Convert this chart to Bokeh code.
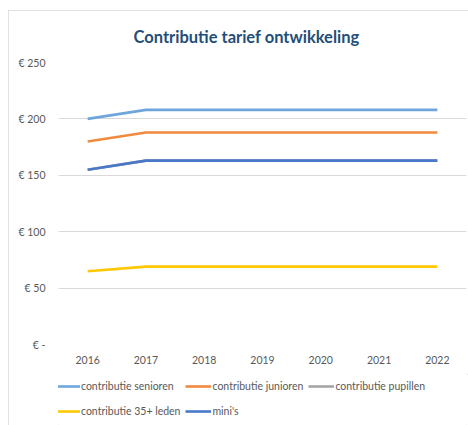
from bokeh.plotting import figure
from bokeh.layouts import column
from bokeh.models import Legend, LegendItem, FixedTicker, Range1d
from bokeh.embed import file_html
from bokeh.resources import INLINE

years = ["2016", "2017", "2018", "2019", "2020", "2021", "2022"]
senioren = [200, 208, 208, 208, 208, 208, 208]
junioren = [180, 188, 188, 188, 188, 188, 188]
pupillen = [155, 163, 163, 163, 163, 163, 163]
leden35 = [65, 69, 69, 69, 69, 69, 69]
minis = [155, 163, 163, 163, 163, 163, 163]

series_names = ["contributie senioren", "contributie junioren", "contributie pupillen",
                "contributie 35+ leden", "mini's"]
series_values = [senioren, junioren, pupillen, leden35, minis]
colors = ["#6EA6DC", "#F08A3E", "#A5A5A5", "#FFC800", "#4A78C8"]

y_ticks = [0, 50, 100, 150, 200, 250]
y_labels = {0: "€ -", 50: "€ 50", 100: "€ 100", 150: "€ 150", 200: "€ 200", 250: "€ 250"}

FONT = "Lato"
TXT = "#595959"

# main chart
p = figure(x_range=years, y_range=Range1d(0, 250), width=460, height=364,
           output_backend="svg", toolbar_location=None,
           min_border_left=50, min_border_right=2, min_border_top=52, min_border_bottom=30,
           title="Contributie tarief ontwikkeling")
p.outline_line_color = None
p.background_fill_color = "white"
p.border_fill_color = "white"

p.title.align = "left"
p.title.offset = 75
p.title.vertical_align = "middle"
p.title.text_font = FONT
p.title.text_font_size = "16.5px"
p.title.text_font_style = "bold"
p.title.text_color = "#1F4E79"
p.title.standoff = 30

for name, vals, c in zip(series_names, series_values, colors):
    p.line(years, vals, line_color=c, line_width=2.6)

p.xgrid.grid_line_color = None
p.ygrid.grid_line_color = "#d9d9d9"
p.ygrid.grid_line_width = 1
p.yaxis.ticker = FixedTicker(ticks=y_ticks)
p.yaxis.major_label_overrides = y_labels
for ax in (p.xaxis[0], p.yaxis[0]):
    ax.axis_line_color = None
    ax.major_tick_line_color = None
    ax.minor_tick_line_color = None
    ax.major_label_text_font = FONT
    ax.major_label_text_font_size = "10.5px"
    ax.major_label_text_color = TXT
p.yaxis.major_label_standoff = 7
p.xaxis.major_label_standoff = 5

# legend strip (series drawn far outside its visible range; only legend shows)
lg = figure(width=460, height=51, output_backend="svg", toolbar_location=None,
            min_border=0, x_range=years, y_range=Range1d(10000, 10001))
lg.outline_line_color = None
lg.border_fill_color = "white"
lg.background_fill_color = "white"
lg.axis.visible = False
lg.grid.visible = False
items = []
for name, vals, c in zip(series_names, series_values, colors):
    r = lg.line(years, vals, line_color=c, line_width=2.6)
    items.append(LegendItem(label=name, renderers=[r]))

legend = Legend(items=items, location=(-4, 4), orientation="horizontal", ncols=3,
                label_text_font=FONT, label_text_font_size="10.5px",
                label_text_color=TXT, glyph_width=26, glyph_height=20,
                label_standoff=1, spacing=5, padding=0, margin=0,
                label_height=20, background_fill_alpha=0, border_line_color=None)
legend.label_text_baseline = "middle"
lg.add_layout(legend, "center")

layout = column(p, lg, spacing=0)
layout.margin = (10, 0, 0, 8)
layout.styles = {"outline": "1px solid #d9d9d9", "outline-offset": "-1px"}

open("out.html", "w").write(file_html(layout, INLINE))
